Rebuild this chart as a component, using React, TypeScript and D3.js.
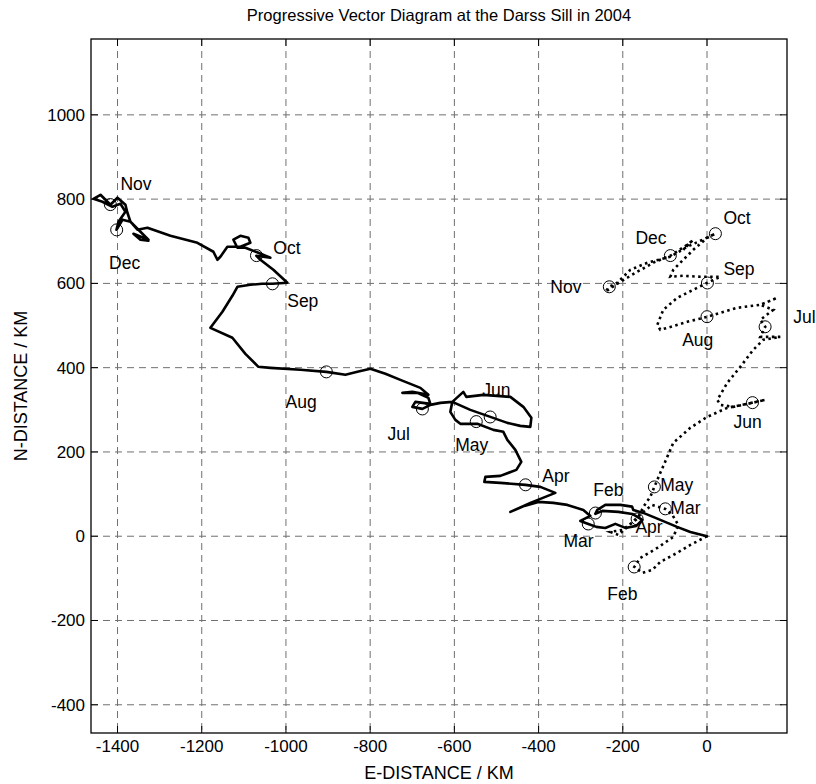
import React from 'react';
import * as d3 from 'd3';

const titleText = 'Progressive  Vector Diagram at the Darss Sill in 2004';
const xLabel = 'E-DISTANCE / KM';
const yLabel = 'N-DISTANCE / KM';

const xTicks = [-1400, -1200, -1000, -800, -600, -400, -200, 0];
const yTicks = [-400, -200, 0, 200, 400, 600, 800, 1000];
const xDomain = [-1463, 190];
const yDomain = [-467, 1180];

// solid trajectory (km east, km north)
const solidPath: [number, number][] = [
  [0, 0], [-39.6, 10.2], [-71.2, 22.1], [-110.9, 38.7], [-151.2, 55.3], [-175.0, 62.4], [-178.1, 70.3],
  [-205.8, 74.3], [-241.5, 74.3], [-260.5, 62.4], [-265.2, 52.9], [-248.6, 60.1], [-210.6, 57.7],
  [-177.3, 52.9], [-153.6, 38.7], [-167.9, 24.5], [-194.0, 19.7], [-217.7, 29.2], [-241.5, 19.7],
  [-262.8, 22.1], [-281.8, 29.2], [-300.8, 36.3], [-277.1, 48.2], [-293.7, 62.4], [-331.7, 74.3],
  [-364.9, 79.1], [-400.5, 81.5], [-433.8, 71.9], [-467.0, 57.7], [-419.5, 79.1], [-383.9, 93.4],
  [-360.2, 102.9], [-395.8, 117.1], [-431.4, 121.9], [-490.8, 126.6], [-528.8, 129.0], [-526.4, 140.8],
  [-490.8, 143.2], [-452.8, 157.5], [-441.0, 176.5], [-455.2, 204.9], [-474.2, 228.7], [-483.7, 247.7],
  [-507.4, 252.4], [-545.4, 266.7], [-585.8, 266.7], [-597.7, 276.1], [-609.6, 295.1], [-604.8, 318.9],
  [-578.7, 342.6], [-571.6, 330.7], [-531.2, 335.5], [-467.1, 330.7], [-436.2, 307.0], [-417.2, 280.9],
  [-419.6, 259.5], [-443.4, 261.9], [-474.2, 269.0], [-514.6, 283.2], [-562.1, 299.8], [-604.8, 318.9],
  [-633.3, 316.5], [-657.0, 311.7], [-676.0, 302.2], [-699.8, 307.0], [-692.7, 318.9], [-657.0, 314.1],
  [-661.7, 328.3], [-687.8, 340.2], [-723.5, 340.2], [-699.8, 342.6], [-661.7, 335.5], [-680.7, 352.1],
  [-728.2, 371.1], [-763.8, 385.4], [-799.4, 397.2], [-830.3, 390.1], [-858.8, 383.0], [-903.9, 390.1],
  [-965.7, 394.9], [-1036.9, 399.6], [-1065.4, 402.0], [-1096.3, 432.9], [-1127.2, 470.9], [-1179.4, 494.6],
  [-1150.9, 532.6], [-1127.2, 570.6], [-1115.3, 592.0], [-1084.5, 596.7], [-1056.0, 599.1], [-1032.2, 599.1],
  [-996.6, 601.5], [-1029.9, 632.3], [-1060.7, 656.1], [-1070.2, 665.6], [-1037.0, 660.8], [-1065.4, 672.7],
  [-1096.3, 684.6], [-1115.3, 684.6], [-1124.8, 703.6], [-1108.2, 713.0], [-1089.2, 708.3], [-1084.5, 696.4],
  [-1108.2, 686.9], [-1139.1, 686.9], [-1155.7, 663.2], [-1162.8, 656.1], [-1172.3, 675.1], [-1210.3, 696.4],
  [-1274.4, 713.0], [-1329.0, 732.0], [-1352.7, 727.3], [-1369.3, 746.3], [-1376.5, 767.6], [-1381.2, 786.6],
  [-1400.2, 803.3], [-1416.8, 786.6], [-1440.5, 810.3], [-1457.2, 800.8], [-1435.8, 793.7], [-1412.1, 781.8],
  [-1393.1, 788.9], [-1381.2, 770.0], [-1397.8, 746.3], [-1402.5, 727.3], [-1388.3, 751.0], [-1369.3, 746.3],
  [-1345.6, 722.5], [-1326.6, 703.6], [-1362.2, 717.8], [-1345.6, 703.6], [-1326.6, 701.2],
];

// dotted trajectory (km east, km north)
const dottedPath: [number, number][] = [
  [0, 0], [-39.6, -20.7], [-71.2, -39.7], [-110.9, -61.0], [-129.9, -80.0], [-153.6, -87.1], [-172.6, -72.9],
  [-158.4, -51.5], [-118.0, -27.8], [-80.0, -1.7], [-68.1, 26.8], [-82.4, 50.6], [-99.0, 64.8],
  [-129.9, 74.3], [-151.2, 57.7], [-189.2, 22.1], [-210.6, 3.1], [-229.6, 10.2], [-201.1, 14.9],
  [-165.5, 41.1], [-151.2, 69.6], [-134.6, 93.4], [-125.1, 117.1], [-110.9, 150.4], [-94.3, 188.4],
  [-80.0, 221.6], [-39.6, 257.2], [0.7, 283.3], [48.2, 304.7], [107.6, 316.5], [138.4, 323.6],
  [62.5, 307.0], [31.6, 311.7], [24.5, 323.6], [48.2, 364.0], [79.1, 402.0], [109.9, 442.3],
  [133.7, 466.1], [174.0, 473.2], [126.6, 473.2], [138.4, 497.0], [126.6, 513.6], [157.4, 537.3],
  [126.6, 549.2], [166.9, 565.8], [126.6, 549.2], [72.0, 542.1], [31.6, 530.2], [0.7, 520.7],
  [-46.8, 508.9], [-94.3, 494.6], [-110.9, 489.9], [-118.0, 501.7], [-103.8, 537.3], [-70.5, 565.8],
  [-32.5, 584.8], [0.7, 601.5], [31.6, 615.7], [-15.9, 615.7], [-56.3, 618.1], [-87.1, 615.7],
  [-80.0, 632.3], [-56.3, 656.1], [-32.5, 679.8], [0.7, 708.3], [19.7, 717.8], [-15.9, 701.2],
  [-46.8, 687.0], [-87.1, 663.2], [-141.8, 649.0], [-182.1, 632.3], [-213.0, 601.5], [-232.0, 592.0],
  [-241.5, 580.2], [-205.8, 603.9], [-165.5, 627.7], [-122.8, 651.4], [-87.1, 665.6], [-46.8, 691.7],
  [-32.5, 703.6], [-56.3, 679.8], [-39.6, 698.9],
];

const months = ['Feb', 'Mar', 'Apr', 'May', 'Jun', 'Jul', 'Aug', 'Sep', 'Oct', 'Nov', 'Dec'];

// month-start markers
const solidMarkX = [-265, -282, -431, -548, -515, -676, -904, -1032, -1070, -1417, -1402];
const solidMarkY = [55, 29, 122, 272, 283, 302, 390, 599, 666, 787, 727];
const dottedMarkX = [-173, -99, -166, -125, 108, 138, 0, 1, 20, -232, -87];
const dottedMarkY = [-73, 65, 41, 117, 317, 497, 521, 601, 718, 592, 666];

// month label anchor points (left edge, vertical middle)
const solidLabelX = [-270, -341, -391, -598, -534, -759, -1001, -997, -1030, -1393, -1420];
const solidLabelY = [110, -11, 144, 216, 348, 242, 320, 558, 685, 837, 649];
const dottedLabelX = [-237, -87, -170, -111, 63, 205, -59, 39, 39, -372, -170];
const dottedLabelY = [-137, 67, 22, 122, 271, 521, 466, 635, 756, 592, 708];

const W = 816;
const H = 784;
const left = 91, right = 787, top = 39, bottom = 733;
const font = 'Liberation Sans, Arial, Helvetica, sans-serif';

export default function App() {
  const x = d3.scaleLinear().domain(xDomain).range([left, right]);
  const y = d3.scaleLinear().domain(yDomain).range([bottom, top]);
  const line = d3.line<[number, number]>().x(d => x(d[0])).y(d => y(d[1]));
  const tick = 7;
  const cx = (left + right) / 2;
  const cy = (top + bottom) / 2;

  return (
    <svg width={W} height={H} style={{ position: 'absolute', left: 0, top: 0, background: '#fff' }}
      fontFamily={font}>
      <rect x={0} y={0} width={W} height={H} fill="#fff" />
      {/* grid */}
      {xTicks.map(t => (
        <line key={'gx' + t} x1={x(t)} x2={x(t)} y1={top} y2={bottom} stroke="#707070" strokeWidth={1} strokeDasharray="7,5" />
      ))}
      {yTicks.map(t => (
        <line key={'gy' + t} x1={left} x2={right} y1={y(t)} y2={y(t)} stroke="#707070" strokeWidth={1} strokeDasharray="7,5" />
      ))}
      {/* ticks */}
      {xTicks.map(t => (
        <g key={'tx' + t} stroke="#000" strokeWidth={1}>
          <line x1={x(t)} x2={x(t)} y1={bottom} y2={bottom - tick} />
          <line x1={x(t)} x2={x(t)} y1={top} y2={top + tick} />
        </g>
      ))}
      {yTicks.map(t => (
        <g key={'ty' + t} stroke="#000" strokeWidth={1}>
          <line x1={left} x2={left + tick} y1={y(t)} y2={y(t)} />
          <line x1={right} x2={right - tick} y1={y(t)} y2={y(t)} />
        </g>
      ))}
      {/* data */}
      <path d={line(solidPath) || ''} fill="none" stroke="#000" strokeWidth={2.6} strokeLinejoin="round" strokeLinecap="round" />
      <path d={line(dottedPath) || ''} fill="none" stroke="#000" strokeWidth={2.6} strokeDasharray="2.5,3.5" />
      {months.map((m, i) => (
        <circle key={'sc' + m} cx={x(solidMarkX[i])} cy={y(solidMarkY[i])} r={6} fill="none" stroke="#000" strokeWidth={1} />
      ))}
      {months.map((m, i) => (
        <circle key={'dc' + m} cx={x(dottedMarkX[i])} cy={y(dottedMarkY[i])} r={6} fill="none" stroke="#000" strokeWidth={1} />
      ))}
      {months.map((m, i) => (
        <text key={'sl' + m} x={x(solidLabelX[i])} y={y(solidLabelY[i])} dy="0.35em" fontSize={17.5}>{m}</text>
      ))}
      {months.map((m, i) => (
        <text key={'dl' + m} x={x(dottedLabelX[i])} y={y(dottedLabelY[i])} dy="0.35em" fontSize={17.5}>{m}</text>
      ))}
      {/* box */}
      <rect x={left} y={top} width={right - left} height={bottom - top} fill="none" stroke="#000" strokeWidth={1.3} />
      {/* tick labels */}
      {xTicks.map(t => (
        <text key={'lx' + t} x={x(t)} y={bottom + 19} textAnchor="middle" fontSize={17}>{t}</text>
      ))}
      {yTicks.map(t => (
        <text key={'ly' + t} x={left - 6} y={y(t)} dy="0.35em" textAnchor="end" fontSize={17}>{t}</text>
      ))}
      <text x={cx} y={21} textAnchor="middle" fontSize={16.5}>{titleText}</text>
      <text x={cx} y={779} textAnchor="middle" fontSize={18}>{xLabel}</text>
      <text transform={`translate(27,${cy}) rotate(-90)`} textAnchor="middle" fontSize={18}>{yLabel}</text>
    </svg>
  );
}
